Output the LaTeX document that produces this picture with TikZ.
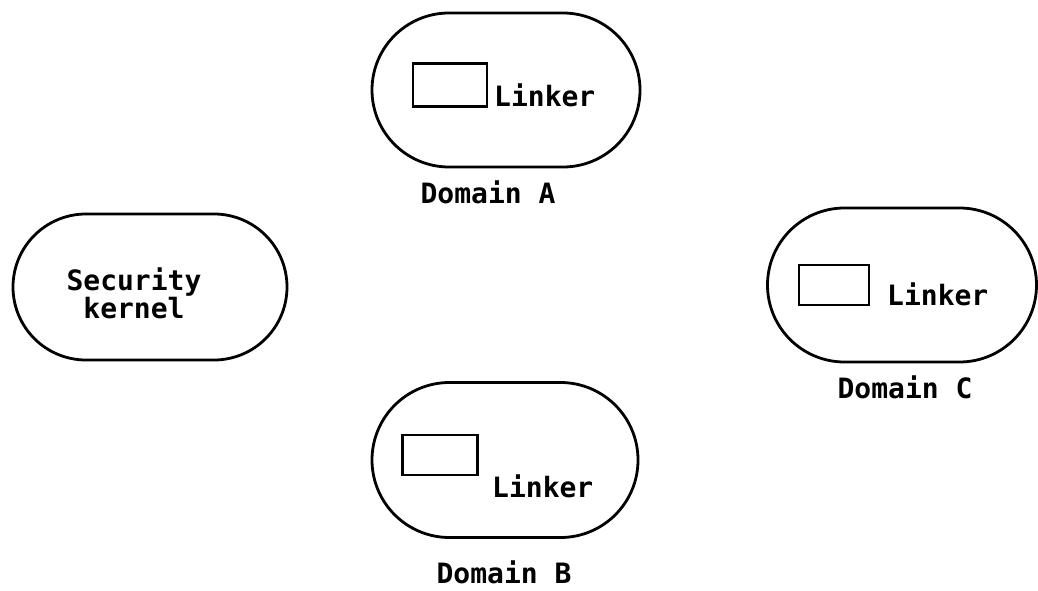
\documentclass[tikz,border=0pt]{standalone}
\usepackage{fontspec}
\setmonofont{DejaVu Sans Mono}
\usetikzlibrary{shapes.misc}

\begin{document}
\begin{tikzpicture}[x=1pt,y=-1pt,
    area/.style={draw, line width=2.8pt, rounded rectangle, inner sep=0pt},
    slot/.style={draw, line width=2.4pt, rectangle, inner sep=0pt},
    lbl/.style={font=\fontsize{28}{26}\selectfont\ttfamily\bfseries, inner sep=0pt}]
    \useasboundingbox (0,0) rectangle (1038,591);
    % Security kernel
    \node[area, minimum width=274pt, minimum height=146pt] (kernel) at (150,287) {};
    \node[lbl, align=center] (kerneltxt) at (134,293) {Security\\kernel};
    % Domain A
    \node[area, minimum width=268pt, minimum height=154pt] (domA) at (506,90) {};
    \node[slot, minimum width=74pt, minimum height=43pt] (boxA) at (450,85) {};
    \node[lbl, anchor=base west] (linkA) at (494,107) {Linker};
    \node[lbl, anchor=base] (nameA) at (488,203) {Domain A};
    % Domain B
    \node[area, minimum width=266pt, minimum height=155pt] (domB) at (505,460) {};
    \node[slot, minimum width=75pt, minimum height=40pt] (boxB) at (440,455) {};
    \node[lbl, anchor=base west] (linkB) at (492,497) {Linker};
    \node[lbl, anchor=base] (nameB) at (504,583) {Domain B};
    % Domain C
    \node[area, minimum width=269pt, minimum height=154pt] (domC) at (902,285) {};
    \node[slot, minimum width=70pt, minimum height=40pt] (boxC) at (834,285) {};
    \node[lbl, anchor=base west] (linkC) at (887,305) {Linker};
    \node[lbl, anchor=base] (nameC) at (905,398) {Domain C};
\end{tikzpicture}
\end{document}
